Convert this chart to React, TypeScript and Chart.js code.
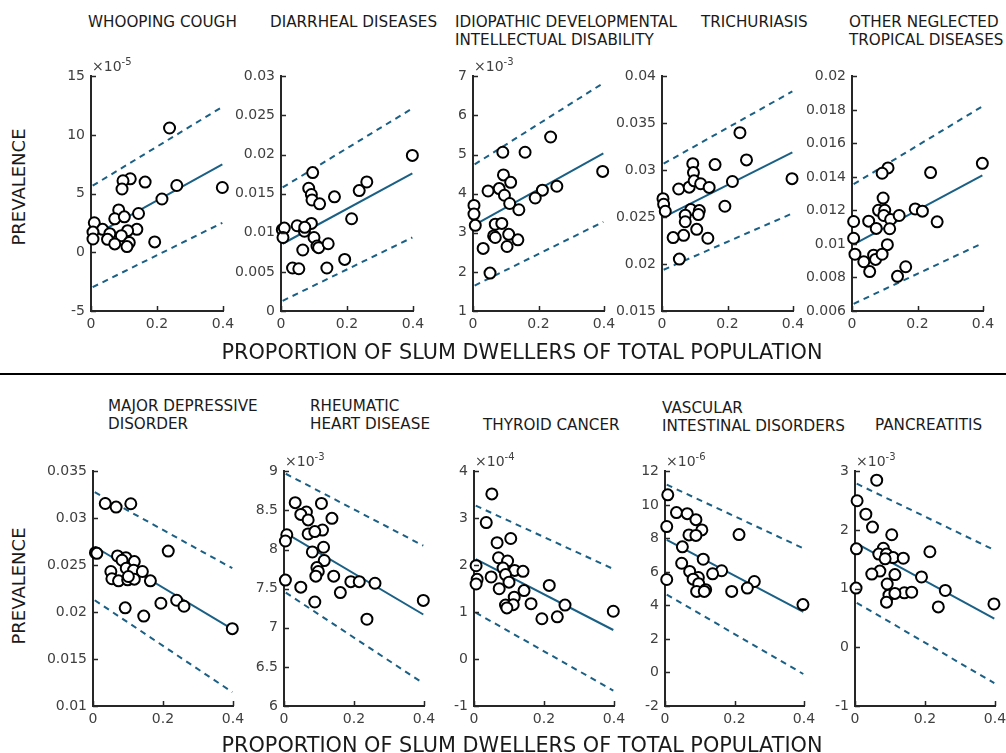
import React, { useEffect, useRef } from 'react';
import { Chart, registerables } from 'chart.js';

Chart.register(...registerables);

const FONT = '"DejaVu Sans", "Liberation Sans", sans-serif';
const LINE_COLOR = '#1a6085';
const AXIS_COLOR = '#262626';
const TICK_COLOR = '#404040';

// x positions of fitted lines (ends)
const fitX = [0.005, 0.398];

// ---- Whooping cough (x1e-5)
const whoopingX = [0.238, 0.119, 0.097, 0.094, 0.164, 0.26, 0.398, 0.215, 0.084, 0.072, 0.101, 0.144, 0.01, 0.035, 0.006, 0.057, 0.139, 0.111, 0.092, 0.006, 0.05, 0.072, 0.116, 0.109, 0.193];
const whoopingY = [10.6, 6.27, 6.1, 5.4, 5.99, 5.7, 5.53, 4.55, 3.62, 2.86, 3.03, 3.31, 2.52, 1.96, 1.73, 1.59, 1.96, 1.85, 1.42, 1.14, 1.11, 0.72, 0.83, 0.49, 0.89];
const whoopingFit = [1.39, 7.49];
const whoopingUpper = [5.68, 12.4];
const whoopingLower = [-2.97, 2.52];

// ---- Diarrheal diseases
const diarrhealX = [0.398, 0.096, 0.084, 0.092, 0.094, 0.117, 0.162, 0.237, 0.26, 0.214, 0.004, 0.01, 0.006, 0.049, 0.092, 0.071, 0.072, 0.1, 0.109, 0.114, 0.143, 0.066, 0.035, 0.054, 0.139, 0.193];
const diarrhealY = [0.0199, 0.0177, 0.0157, 0.0149, 0.0142, 0.0137, 0.0146, 0.0154, 0.0165, 0.0118, 0.0104, 0.0106, 0.0094, 0.0109, 0.0112, 0.0102, 0.0107, 0.0094, 0.0083, 0.0081, 0.0086, 0.0078, 0.0055, 0.0054, 0.0055, 0.0066];
const diarrhealFit = [0.0086, 0.0176];
const diarrhealUpper = [0.0158, 0.0259];
const diarrhealLower = [0.0013, 0.0094];

// ---- Idiopathic developmental intellectual disability (x1e-3)
const idiopathicX = [0.237, 0.091, 0.159, 0.396, 0.093, 0.115, 0.08, 0.046, 0.096, 0.212, 0.256, 0.19, 0.112, 0.14, 0.003, 0.003, 0.007, 0.068, 0.088, 0.109, 0.063, 0.068, 0.137, 0.104, 0.031, 0.052];
const idiopathicY = [5.45, 5.06, 5.06, 4.57, 4.48, 4.29, 4.13, 4.07, 3.96, 4.09, 4.19, 3.89, 3.75, 3.59, 3.7, 3.48, 3.19, 3.22, 3.24, 2.96, 2.92, 2.88, 2.82, 2.65, 2.6, 1.97];
const idiopathicFit = [3.2, 5.03];
const idiopathicUpper = [4.75, 6.83];
const idiopathicLower = [1.65, 3.28];

// ---- Trichuriasis
const trichuriasisX = [0.238, 0.258, 0.162, 0.094, 0.096, 0.397, 0.215, 0.051, 0.083, 0.098, 0.118, 0.144, 0.003, 0.005, 0.01, 0.192, 0.088, 0.114, 0.111, 0.071, 0.071, 0.106, 0.066, 0.034, 0.14, 0.053];
const trichuriasisY = [0.034, 0.0311, 0.0306, 0.0307, 0.02975, 0.0291, 0.0288, 0.028, 0.0282, 0.02887, 0.02856, 0.02817, 0.02697, 0.02637, 0.02563, 0.02616, 0.02581, 0.0257, 0.02528, 0.02521, 0.02451, 0.0237, 0.02306, 0.02282, 0.02275, 0.02053];
const trichuriasisFit = [0.025, 0.0319];
const trichuriasisUpper = [0.0307, 0.0384];
const trichuriasisLower = [0.0194, 0.0254];

// ---- Other neglected tropical diseases
const otherNtdX = [0.398, 0.11, 0.092, 0.24, 0.095, 0.081, 0.1, 0.097, 0.118, 0.144, 0.193, 0.215, 0.26, 0.005, 0.051, 0.074, 0.115, 0.005, 0.108, 0.009, 0.036, 0.066, 0.072, 0.092, 0.054, 0.164, 0.139];
const otherNtdY = [0.01481, 0.01454, 0.01422, 0.01426, 0.01274, 0.01201, 0.01201, 0.0117, 0.01146, 0.0117, 0.01209, 0.01196, 0.01132, 0.01134, 0.01136, 0.01093, 0.01091, 0.01034, 0.00996, 0.00939, 0.00894, 0.00933, 0.00908, 0.00939, 0.00835, 0.00864, 0.00807];
const otherNtdFit = [0.00998, 0.01409];
const otherNtdUpper = [0.01357, 0.01821];
const otherNtdLower = [0.00643, 0.01004];

// ---- Major depressive disorder
const depressiveX = [0.035, 0.066, 0.108, 0.007, 0.011, 0.215, 0.07, 0.094, 0.083, 0.118, 0.095, 0.116, 0.141, 0.051, 0.054, 0.073, 0.099, 0.118, 0.101, 0.164, 0.239, 0.26, 0.194, 0.092, 0.145, 0.398];
const depressiveY = [0.03158, 0.0312, 0.03155, 0.02634, 0.02627, 0.02651, 0.02599, 0.02581, 0.02553, 0.02539, 0.02468, 0.02447, 0.02433, 0.02433, 0.02356, 0.02334, 0.02345, 0.02352, 0.0238, 0.02334, 0.02127, 0.02063, 0.02095, 0.02046, 0.01958, 0.01824];
const depressiveFit = [0.02697, 0.0182];
const depressiveUpper = [0.03278, 0.02468];
const depressiveLower = [0.02127, 0.01148];

// ---- Rheumatic heart disease (x1e-3)
const rheumaticX = [0.032, 0.107, 0.064, 0.048, 0.069, 0.137, 0.11, 0.069, 0.088, 0.008, 0.004, 0.113, 0.081, 0.115, 0.094, 0.098, 0.091, 0.142, 0.004, 0.191, 0.215, 0.26, 0.048, 0.161, 0.088, 0.398, 0.237];
const rheumaticY = [8.6, 8.59, 8.48, 8.45, 8.38, 8.4, 8.25, 8.2, 8.23, 8.19, 8.11, 8.03, 7.97, 7.86, 7.77, 7.72, 7.66, 7.66, 7.61, 7.59, 7.59, 7.57, 7.52, 7.45, 7.33, 7.35, 7.11];
const rheumaticFit = [8.21, 7.17];
const rheumaticUpper = [8.97, 8.05];
const rheumaticLower = [7.45, 6.29];

// ---- Thyroid cancer (x1e-4)
const thyroidX = [0.051, 0.035, 0.105, 0.066, 0.07, 0.096, 0.006, 0.083, 0.116, 0.14, 0.09, 0.009, 0.049, 0.006, 0.1, 0.072, 0.215, 0.143, 0.115, 0.163, 0.09, 0.112, 0.094, 0.26, 0.398, 0.194, 0.238];
const thyroidY = [3.52, 2.91, 2.57, 2.48, 2.16, 2.09, 1.99, 1.94, 1.89, 1.87, 1.8, 1.7, 1.75, 1.6, 1.64, 1.5, 1.57, 1.46, 1.32, 1.18, 1.15, 1.16, 1.09, 1.15, 1.02, 0.86, 0.9];
const thyroidFit = [2.13, 0.62];
const thyroidUpper = [3.27, 1.92];
const thyroidLower = [0.99, -0.67];

// ---- Vascular intestinal disorders (x1e-6)
const vascularX = [0.008, 0.033, 0.064, 0.089, 0.005, 0.106, 0.069, 0.089, 0.213, 0.05, 0.11, 0.048, 0.163, 0.137, 0.071, 0.096, 0.081, 0.005, 0.257, 0.097, 0.237, 0.117, 0.091, 0.113, 0.192, 0.397];
const vascularY = [10.6, 9.54, 9.48, 9.12, 8.71, 8.51, 8.21, 8.18, 8.23, 7.5, 6.76, 6.52, 6.07, 5.89, 6.03, 5.67, 5.57, 5.55, 5.43, 5.3, 5.04, 4.94, 4.84, 4.84, 4.84, 4.05];
const vascularFit = [7.92, 3.62];
const vascularUpper = [11.21, 7.41];
const vascularLower = [4.65, -0.09];

// ---- Pancreatitis (x1e-3)
const pancreatitisX = [0.062, 0.006, 0.031, 0.05, 0.105, 0.004, 0.081, 0.214, 0.068, 0.09, 0.109, 0.138, 0.086, 0.071, 0.048, 0.114, 0.19, 0.092, 0.003, 0.258, 0.097, 0.141, 0.162, 0.114, 0.09, 0.238, 0.397];
const pancreatitisY = [2.85, 2.5, 2.27, 2.05, 1.92, 1.68, 1.69, 1.63, 1.59, 1.59, 1.53, 1.52, 1.51, 1.3, 1.25, 1.24, 1.2, 1.08, 1.01, 0.97, 0.89, 0.93, 0.94, 0.92, 0.77, 0.69, 0.74];
const pancreatitisFit = [1.77, 0.49];
const pancreatitisUpper = [2.79, 1.66];
const pancreatitisLower = [0.76, -0.61];

const titles = [
  'WHOOPING COUGH',
  'DIARRHEAL DISEASES',
  'IDIOPATHIC DEVELOPMENTAL\nINTELLECTUAL DISABILITY',
  'TRICHURIASIS',
  'OTHER NEGLECTED\nTROPICAL DISEASES',
  'MAJOR DEPRESSIVE\nDISORDER',
  'RHEUMATIC\nHEART DISEASE',
  'THYROID CANCER',
  'VASCULAR\nINTESTINAL DISORDERS',
  'PANCREATITIS',
];
const yRanges = [
  [-5, 15, 5], [0, 0.03, 0.005], [1, 7, 1], [0.015, 0.04, 0.005], [0.006, 0.02, 0.002],
  [0.01, 0.035, 0.005], [6, 9, 0.5], [-1, 4, 1], [-2, 12, 2], [-1, 3, 1],
];
const exponents = ['-5', null, '-3', null, null, null, '-3', '-4', '-6', '-3'];
const xTicks = [0, 0.2, 0.4];
const xLabel = 'PROPORTION OF SLUM DWELLERS OF TOTAL POPULATION';
const yLabel = 'PREVALENCE';

const seriesX = [whoopingX, diarrhealX, idiopathicX, trichuriasisX, otherNtdX, depressiveX, rheumaticX, thyroidX, vascularX, pancreatitisX];
const seriesY = [whoopingY, diarrhealY, idiopathicY, trichuriasisY, otherNtdY, depressiveY, rheumaticY, thyroidY, vascularY, pancreatitisY];
const fits = [whoopingFit, diarrhealFit, idiopathicFit, trichuriasisFit, otherNtdFit, depressiveFit, rheumaticFit, thyroidFit, vascularFit, pancreatitisFit];
const uppers = [whoopingUpper, diarrhealUpper, idiopathicUpper, trichuriasisUpper, otherNtdUpper, depressiveUpper, rheumaticUpper, thyroidUpper, vascularUpper, pancreatitisUpper];
const lowers = [whoopingLower, diarrhealLower, idiopathicLower, trichuriasisLower, otherNtdLower, depressiveLower, rheumaticLower, thyroidLower, vascularLower, pancreatitisLower];

// layout (pixels): plot left, right, top, bottom, title left, title top
const layoutBoxes = [
  [91, 223, 74, 311, 88, 13],
  [281, 413, 74, 311, 270, 13],
  [473, 604, 74, 311, 455, 13],
  [662, 793, 74, 311, 701, 13],
  [852, 983, 74, 311, 849, 13],
  [93, 233, 469, 706, 108, 397],
  [284, 424, 469, 706, 310, 397],
  [474, 614, 469, 706, 483, 416],
  [665, 804, 469, 706, 662, 399],
  [855, 995, 469, 706, 875, 416],
];

const AXIS_W = 58;
const AXIS_H = 32;
const PAD_T = 12;
const PAD_R = 24;

const fmt = (v: number) => String(Number(Number(v).toFixed(6)));

const inwardTicks = {
  id: 'inwardTicks',
  afterDatasetsDraw(chart: any) {
    const { ctx, chartArea, scales } = chart;
    ctx.save();
    ctx.strokeStyle = AXIS_COLOR;
    ctx.lineWidth = 1.5;
    ctx.beginPath();
    scales.y.ticks.forEach((t: any) => {
      const py = Math.round(scales.y.getPixelForValue(t.value)) + 0.5;
      ctx.moveTo(chartArea.left, py);
      ctx.lineTo(chartArea.left + 5, py);
    });
    scales.x.ticks.forEach((t: any) => {
      const px = Math.round(scales.x.getPixelForValue(t.value)) + 0.5;
      ctx.moveTo(px, chartArea.bottom);
      ctx.lineTo(px, chartArea.bottom - 5);
    });
    ctx.stroke();
    ctx.restore();
  },
};

function Panel({ idx }: { idx: number }) {
  const ref = useRef<HTMLCanvasElement>(null);
  const [l, r, t, b] = layoutBoxes[idx];
  const width = AXIS_W + (r - l) + PAD_R;
  const height = PAD_T + (b - t) + AXIS_H;
  useEffect(() => {
    const xs = seriesX[idx];
    const ys = seriesY[idx];
    const [yMin, yMax, yStep] = yRanges[idx];
    const line = (vals: number[], dashed: boolean) => ({
      type: 'line' as const,
      data: fitX.map((x, i) => ({ x, y: vals[i] })),
      borderColor: LINE_COLOR,
      borderWidth: 2,
      borderDash: dashed ? [6, 5] : [],
      pointRadius: 0,
      fill: false,
      clip: false as any,
    });
    const chart = new Chart(ref.current as HTMLCanvasElement, {
      type: 'scatter',
      data: {
        datasets: [
          {
            type: 'scatter',
            data: xs.map((x, i) => ({ x, y: ys[i] })),
            pointRadius: 5.5,
            pointBorderWidth: 2,
            borderColor: '#000000',
            backgroundColor: '#ffffff',
            pointBackgroundColor: '#ffffff',
            pointBorderColor: '#000000',
            clip: false as any,
          } as any,
          line(fits[idx], false),
          line(uppers[idx], true),
          line(lowers[idx], true),
        ],
      },
      options: {
        animation: false,
        responsive: false,
        devicePixelRatio: 1,
        events: [],
        layout: { padding: { top: PAD_T, right: PAD_R, left: 0, bottom: 0 } },
        plugins: { legend: { display: false }, tooltip: { enabled: false } },
        scales: {
          x: {
            type: 'linear',
            min: 0,
            max: 0.4,
            afterFit: (s: any) => { s.height = AXIS_H; },
            afterBuildTicks: (s: any) => { s.ticks = xTicks.map((v) => ({ value: v })); },
            ticks: { callback: (v: any) => fmt(v), font: { family: FONT, size: 14 }, color: TICK_COLOR, padding: 5, maxRotation: 0, autoSkip: false },
            grid: { display: false, drawTicks: false },
            border: { display: true, color: AXIS_COLOR, width: 2 },
          },
          y: {
            type: 'linear',
            min: yMin,
            max: yMax,
            afterFit: (s: any) => { s.width = AXIS_W; },
            ticks: { stepSize: yStep, callback: (v: any) => fmt(v), font: { family: FONT, size: 14 }, color: TICK_COLOR, padding: 6, autoSkip: false },
            grid: { display: false, drawTicks: false },
            border: { display: true, color: AXIS_COLOR, width: 2 },
          },
        },
      } as any,
      plugins: [inwardTicks],
    });
    return () => chart.destroy();
  }, [idx]);
  return (
    <canvas
      ref={ref}
      width={width}
      height={height}
      style={{ position: 'absolute', left: l - AXIS_W, top: t - PAD_T, width, height }}
    />
  );
}

export default function App() {
  return (
    <div style={{ position: 'absolute', left: 0, top: 0, width: 1006, height: 753, background: '#ffffff', overflow: 'hidden', fontFamily: FONT }}>
      {layoutBoxes.map((box, i) => (
        <Panel key={'p' + i} idx={i} />
      ))}
      {layoutBoxes.map((box, i) => (
        <div key={'t' + i} style={{ position: 'absolute', left: box[4], top: box[5], fontSize: 15.2, lineHeight: '18px', whiteSpace: 'pre', color: '#1a1a1a' }}>
          {titles[i]}
        </div>
      ))}
      {layoutBoxes.map((box, i) =>
        exponents[i] ? (
          <div key={'e' + i} style={{ position: 'absolute', left: box[0] + 1, top: box[2] - 15, fontSize: 14, lineHeight: '14px', whiteSpace: 'nowrap', color: TICK_COLOR }}>
            ×10<span style={{ fontSize: 10, position: 'relative', top: -6 }}>{exponents[i]}</span>
          </div>
        ) : null
      )}
      <div style={{ position: 'absolute', left: 0, top: 373, width: 1006, height: 2, background: '#000' }} />
      {[352, 745].map((y) => (
        <div key={'xl' + y} style={{ position: 'absolute', left: 522, top: y, transform: 'translate(-50%, -50%)', fontSize: 20.8, whiteSpace: 'nowrap', color: '#1a1a1a' }}>
          {xLabel}
        </div>
      ))}
      {[187, 586].map((y) => (
        <div key={'yl' + y} style={{ position: 'absolute', left: 18, top: y, transform: 'translate(-50%, -50%) rotate(-90deg)', fontSize: 18, whiteSpace: 'nowrap', color: '#1a1a1a' }}>
          {yLabel}
        </div>
      ))}
    </div>
  );
}
